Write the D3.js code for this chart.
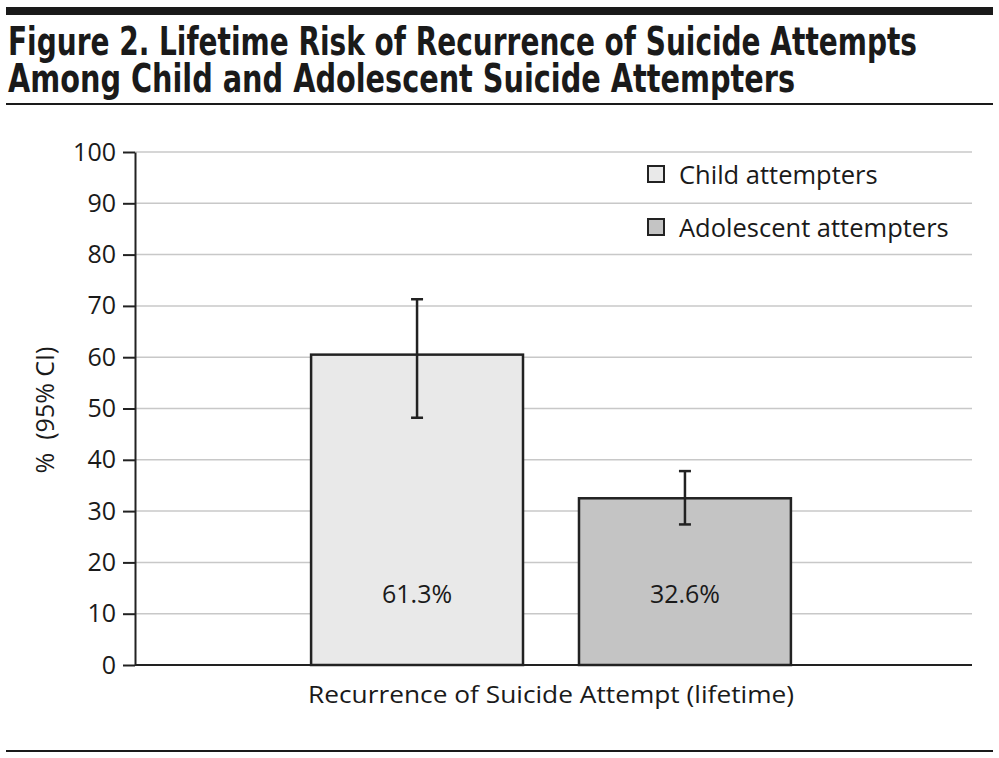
<!DOCTYPE html>
<html>
<head>
<meta charset="utf-8">
<script src="https://cdn.jsdelivr.net/npm/d3@7"></script>
<style>
  body { margin: 0; background: #fff; }
  svg { display: block; }
</style>
</head>
<body>
<svg width="999" height="758"></svg>
<script>
// data
const categories = ["Recurrence of Suicide Attempt (lifetime)"]
const seriesNames = ["Child attempters", "Adolescent attempters"]
const barValues = [60.5, 32.5]
const ciLow = [48.2, 27.4]
const ciHigh = [71.3, 37.8]
const valueLabels = ["61.3%", "32.6%"]
const yTicks = [0, 10, 20, 30, 40, 50, 60, 70, 80, 90, 100]
const fills = ["#e9e9e9", "#c4c4c4"]

const font = "'Open Sans', 'Noto Sans', sans-serif"
const ink = "#1a1a1a"
const svg = d3.select("svg")

// header rules and title
svg.append("rect").attr("x", 6).attr("y", 7).attr("width", 987).attr("height", 8).attr("fill", ink)
svg.append("rect").attr("x", 6).attr("y", 103).attr("width", 987).attr("height", 2).attr("fill", ink)
svg.append("rect").attr("x", 6).attr("y", 750).attr("width", 987).attr("height", 2).attr("fill", ink)

const titleLines = [
  ["Figure 2. Lifetime Risk of Recurrence of Suicide Attempts", 55, 909],
  ["Among Child and Adolescent Suicide Attempters", 92, 787]
]
svg.selectAll(".title").data(titleLines).enter().append("text")
  .attr("class", "title")
  .attr("x", 8).attr("y", d => d[1])
  .attr("textLength", d => d[2])
  .attr("lengthAdjust", "spacingAndGlyphs")
  .style("font-family", "'Liberation Sans Narrow', 'DejaVu Sans Condensed', sans-serif")
  .style("font-weight", "bold")
  .style("font-size", "39px")
  .attr("fill", ink)
  .text(d => d[0])

const plotL = 135, plotR = 972, plotT = 152, plotB = 665

const y = d3.scaleLinear().domain([0, 100]).range([plotB, plotT])
const x0 = d3.scaleBand().domain(categories).range([plotL, plotR - 5]).paddingInner(0).paddingOuter(0.367)
const x1 = d3.scaleBand().domain(seriesNames).range([0, x0.bandwidth()]).paddingInner(0.209).paddingOuter(0)

// gridlines
svg.append("g").selectAll("line").data(yTicks.filter(t => t > 0)).enter().append("line")
  .attr("x1", plotL).attr("x2", plotR)
  .attr("y1", d => y(d)).attr("y2", d => y(d))
  .attr("stroke", "#c8c8c8").attr("stroke-width", 1.5)

// y axis
const yAxis = svg.append("g").attr("transform", `translate(${plotL},0)`)
  .call(d3.axisLeft(y).tickValues(yTicks).tickSize(12).tickPadding(7).tickSizeOuter(0))
yAxis.select(".domain").attr("stroke", "#222").attr("stroke-width", 2)
yAxis.selectAll(".tick line").attr("stroke", "#222").attr("stroke-width", 2)
yAxis.selectAll(".tick text").style("font-family", font).style("font-size", "25px").attr("fill", ink)

// bars
const g = svg.append("g").attr("transform", `translate(${x0(categories[0])},0)`)
g.selectAll("rect").data(seriesNames).enter().append("rect")
  .attr("x", d => x1(d))
  .attr("y", (d, i) => y(barValues[i]))
  .attr("width", x1.bandwidth())
  .attr("height", (d, i) => y(0) - y(barValues[i]))
  .attr("fill", (d, i) => fills[i])
  .attr("stroke", "#222").attr("stroke-width", 2.5)

// error bars and value labels
seriesNames.forEach((s, i) => {
  const cx = x1(s) + x1.bandwidth() / 2
  g.append("line").attr("x1", cx).attr("x2", cx).attr("y1", y(ciLow[i])).attr("y2", y(ciHigh[i]))
    .attr("stroke", "#222").attr("stroke-width", 2.5)
  ;[ciLow[i], ciHigh[i]].forEach(v => {
    g.append("line").attr("x1", cx - 6).attr("x2", cx + 6).attr("y1", y(v)).attr("y2", y(v))
      .attr("stroke", "#222").attr("stroke-width", 2.5)
  })
  g.append("text").attr("x", cx).attr("y", 603).attr("text-anchor", "middle")
    .style("font-family", font).style("font-size", "25px").attr("fill", ink)
    .text(valueLabels[i])
})

// x axis baseline
svg.append("line").attr("x1", plotL).attr("x2", plotR).attr("y1", plotB).attr("y2", plotB)
  .attr("stroke", "#222").attr("stroke-width", 2)

// axis titles
svg.append("text").attr("x", x0(categories[0]) + x0.bandwidth() / 2).attr("y", 703)
  .attr("text-anchor", "middle")
  .attr("textLength", 486).attr("lengthAdjust", "spacingAndGlyphs")
  .style("font-family", font).style("font-size", "24px").attr("fill", ink)
  .text(categories[0])

svg.append("text").attr("transform", "translate(54,410) rotate(-90)")
  .attr("text-anchor", "middle")
  .style("font-family", font).style("font-size", "25px").attr("fill", ink)
  .attr("xml:space", "preserve")
  .text("%  (95% CI)")

// legend
const legend = svg.append("g").attr("transform", "translate(648,0)")
seriesNames.forEach((s, i) => {
  const ly = 183 + i * 53
  legend.append("rect").attr("x", 0).attr("y", ly - 17).attr("width", 16).attr("height", 16)
    .attr("fill", fills[i]).attr("stroke", "#222").attr("stroke-width", 2)
  legend.append("text").attr("x", 31).attr("y", ly + 1)
    .style("font-family", font).style("font-size", "25.5px").attr("fill", ink)
    .text(s)
})
</script>
</body>
</html>
